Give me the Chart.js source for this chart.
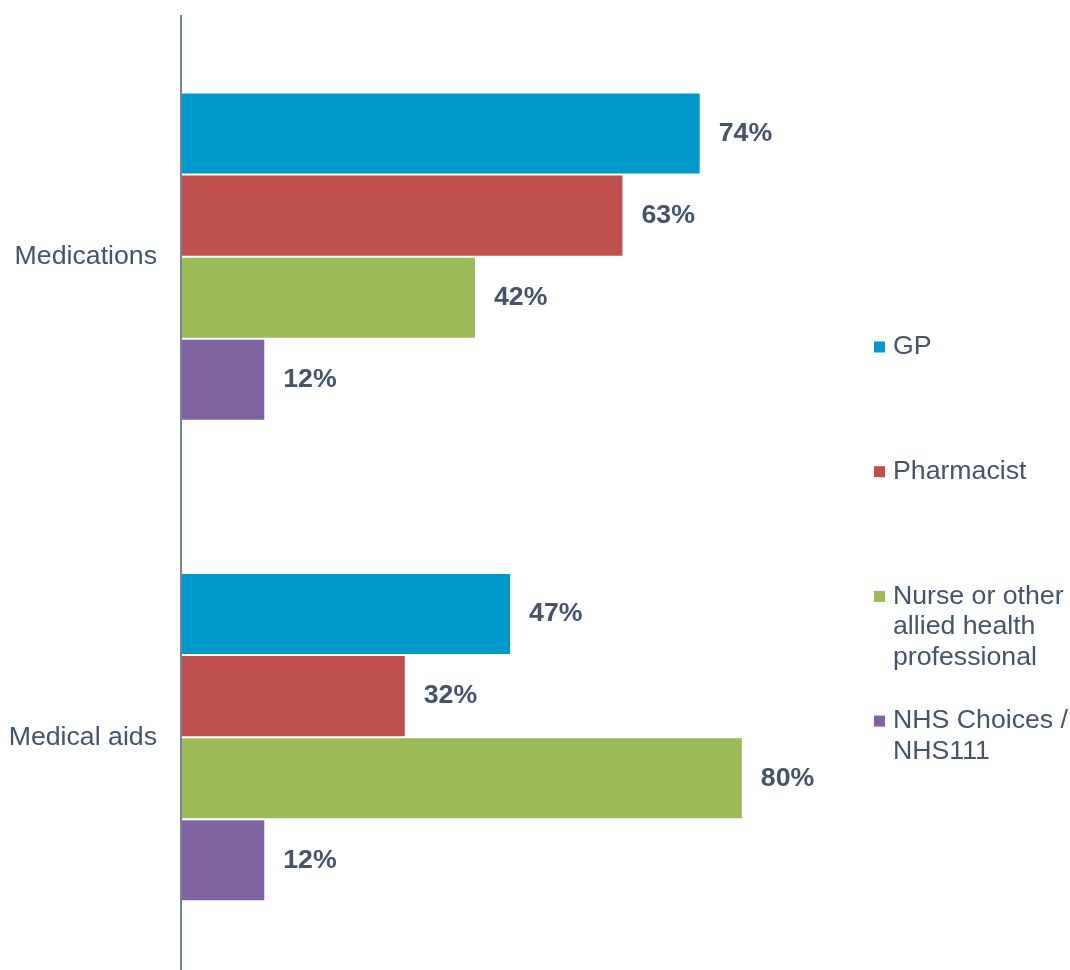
<!DOCTYPE html>
<html>
<head>
<meta charset="utf-8">
<script src="https://cdn.jsdelivr.net/npm/chart.js@4"></script>
<style>
  html, body { margin: 0; padding: 0; background: #fff; overflow: hidden; }
  #wrap { position: relative; width: 1070px; height: 990px; }
</style>
</head>
<body>
<div id="wrap"><canvas id="chart"></canvas></div>
<script>
// categories and series (percent of respondents)
const categories = ['Medications', 'Medical aids'];
const gpValues = [74, 47];
const pharmacistValues = [63, 32];
const nurseValues = [42, 80];
const nhsValues = [12, 12];

const seriesNames = ['GP', 'Pharmacist', 'Nurse or other allied health professional', 'NHS Choices / NHS111'];
const legendLines = [
  ['GP'],
  ['Pharmacist'],
  ['Nurse or other', 'allied health', 'professional'],
  ['NHS Choices /', 'NHS111'],
];
const seriesColors = ['#0099CC', '#C0504D', '#9BBB59', '#8064A2'];

const TEXT_COLOR = '#44546A';
const FONT_FAMILY = '"Liberation Sans", Arial, sans-serif';
const FONT_SIZE = 26.7;

// value labels to the right of each bar
const valueLabels = {
  id: 'valueLabels',
  afterDatasetsDraw(chart) {
    const { ctx } = chart;
    ctx.save();
    ctx.font = `bold ${FONT_SIZE}px ${FONT_FAMILY}`;
    ctx.fillStyle = TEXT_COLOR;
    ctx.textAlign = 'left';
    ctx.textBaseline = 'middle';
    chart.data.datasets.forEach((ds, i) => {
      chart.getDatasetMeta(i).data.forEach((bar, j) => {
        ctx.fillText(ds.data[j] + '%', bar.x + 18, bar.y);
      });
    });
    ctx.restore();
  }
};

// legend on the right: square marker + wrapped text, fixed spacing between entries
const sideLegend = {
  id: 'sideLegend',
  afterDraw(chart) {
    const { ctx } = chart;
    const x = 874, box = 11, textX = 893;
    const firstY = 347, step = 124.7, lineH = 30.7;
    ctx.save();
    ctx.font = `${FONT_SIZE}px ${FONT_FAMILY}`;
    ctx.textAlign = 'left';
    ctx.textBaseline = 'middle';
    legendLines.forEach((lines, i) => {
      const y = firstY + i * step;
      ctx.fillStyle = seriesColors[i];
      ctx.fillRect(x, y - box / 2, box, box);
      ctx.fillStyle = TEXT_COLOR;
      lines.forEach((t, k) => ctx.fillText(t, textX, y + k * lineH));
    });
    ctx.restore();
  }
};

const makeSet = (i, data) => ({
  label: seriesNames[i],
  data,
  backgroundColor: seriesColors[i],
  borderColor: '#ffffff',
  borderWidth: 1,
  borderSkipped: 'start',
  barPercentage: 1,
  categoryPercentage: 0.683,
});

new Chart(document.getElementById('chart'), {
  type: 'bar',
  data: {
    labels: categories,
    datasets: [
      makeSet(0, gpValues),
      makeSet(1, pharmacistValues),
      makeSet(2, nurseValues),
      makeSet(3, nhsValues),
    ]
  },
  options: {
    indexAxis: 'y',
    responsive: true,
    maintainAspectRatio: false,
    animation: false,
    layout: { padding: { top: 16.4, bottom: 12.6, left: 0, right: 186.7 } },
    plugins: {
      legend: { display: false },
      tooltip: { enabled: false },
    },
    scales: {
      x: {
        display: false,
        min: 0,
        max: 100,
      },
      y: {
        grid: { display: false, drawTicks: false },
        border: { display: true, color: '#768596', width: 2, z: 1 },
        ticks: {
          color: TEXT_COLOR,
          font: { size: FONT_SIZE, family: FONT_FAMILY },
          padding: 24,
        },
        afterFit(scale) {
          // fixed axis width, no extra room reserved for tick label overhang
          scale.width = 181;
          scale.paddingTop = 0;
          scale.paddingBottom = 0;
        },
      }
    }
  },
  plugins: [valueLabels, sideLegend]
});
</script>
</body>
</html>
